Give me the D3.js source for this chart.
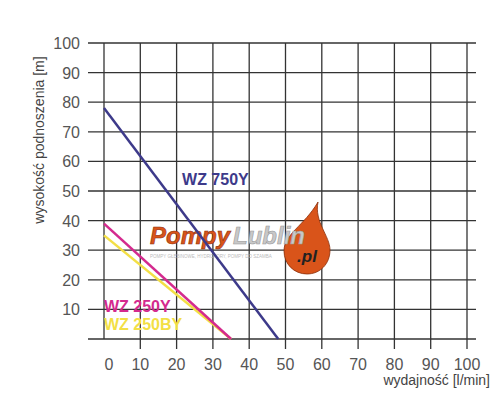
<!DOCTYPE html>
<html><head><meta charset="utf-8">
<script src="https://cdn.jsdelivr.net/npm/d3@7"></script>
<style>body{margin:0;background:#fff}text{font-family:"Liberation Sans",Arial,sans-serif}</style>
</head><body>
<svg id="chart" width="500" height="420"></svg>
<script>
const xTicks = [0, 10, 20, 30, 40, 50, 60, 70, 80, 90, 100]
const yTicks = [10, 20, 30, 40, 50, 60, 70, 80, 90, 100]
const flow = [0, 48], wz750 = [78, 0]
const flow250 = [0, 35], wz250 = [39, 0], wz250b = [35, 0]

const svg = d3.select('#chart')
const x = d3.scaleLinear().domain([0, 100]).range([104, 467])
const y = d3.scaleLinear().domain([0, 100]).range([339, 43])

// grid
svg.append('g').selectAll('line').data(yTicks.concat([0])).enter().append('line')
  .attr('x1', 88).attr('x2', 476).attr('y1', d => y(d)).attr('y2', d => y(d))
  .attr('stroke', '#333').attr('stroke-width', 1.3)
svg.append('g').selectAll('line').data(xTicks).enter().append('line')
  .attr('x1', d => x(d)).attr('x2', d => x(d)).attr('y1', y(100)).attr('y2', d => d ? 349 : 339)
  .attr('stroke', '#333').attr('stroke-width', 1.3)

svg.append('g').selectAll('text').data(yTicks).enter().append('text')
  .attr('x', 80).attr('y', d => y(d) + 6).attr('text-anchor', 'end')
  .attr('font-size', 16).attr('fill', '#555').text(d => d)
svg.append('g').selectAll('text').data(xTicks).enter().append('text')
  .attr('x', d => x(d) + (d ? 0 : 5)).attr('y', 370).attr('text-anchor', 'middle')
  .attr('font-size', 16).attr('fill', '#555').text(d => d)

svg.append('text').attr('transform', 'translate(44,140) rotate(-90)').attr('text-anchor', 'middle')
  .attr('font-size', 14).attr('fill', '#444').text('wysokość podnoszenia [m]')
svg.append('text').attr('x', 490).attr('y', 385).attr('text-anchor', 'end')
  .attr('font-size', 14).attr('fill', '#444').text('wydajność [l/min]')

// logo watermark
const logo = svg.append('g')
logo.append('path')
  .attr('d', 'M318,202 C314,222 330,236 330,250 C330,264 320,274 307,274 C294,274 284,264 284,251 C284,234 304,226 318,202 Z')
  .attr('fill', '#d9541a').attr('stroke', '#8a2e0a').attr('stroke-width', 0.8)
logo.append('text').attr('x', 307).attr('y', 262).attr('text-anchor', 'middle').attr('font-size', 17)
  .attr('font-weight', 'bold').attr('font-style', 'italic').attr('fill', '#222').text('.pl')
logo.append('text').attr('x', 150).attr('y', 244).attr('font-size', 24).attr('font-weight', 'bold')
  .attr('font-style', 'italic').attr('fill', '#d9541a').attr('stroke', '#8a2e0a').attr('stroke-width', 0.6).text('Pompy')
logo.append('text').attr('x', 233).attr('y', 244).attr('font-size', 24).attr('font-weight', 'bold')
  .attr('font-style', 'italic').attr('fill', '#c8c8c8').attr('stroke', '#999').attr('stroke-width', 0.6).text('Lublin')
logo.append('text').attr('x', 150).attr('y', 258).attr('font-size', 4.5).attr('fill', '#bbb')
  .text('POMPY GŁĘBINOWE, HYDROFORY, POMPY DO SZAMBA')

const line = d3.line().x(d => x(d[0])).y(d => y(d[1]))
const series = [
  {xs: flow, ys: wz750, c: '#3d3a8a'},
  {xs: flow250, ys: wz250b, c: '#f3df45'},
  {xs: flow250, ys: wz250, c: '#d42a8e'}
]
svg.append('g').selectAll('path').data(series).enter().append('path')
  .attr('d', s => line(d3.zip(s.xs, s.ys))).attr('fill', 'none')
  .attr('stroke', s => s.c).attr('stroke-width', 2.5)

const labels = [
  {t: 'WZ 750Y', px: 21.5, py: 54, c: '#3d3a8a'},
  {t: 'WZ 250Y', px: 0, py: 11, c: '#d42a8e'},
  {t: 'WZ 250BY', px: 0, py: 5, c: '#f3df45'}
]
svg.append('g').selectAll('text').data(labels).enter().append('text')
  .attr('x', d => x(d.px)).attr('y', d => y(d.py) + 6).attr('font-size', 16).attr('font-weight', 'bold')
  .attr('fill', d => d.c).text(d => d.t)
</script>
</body></html>
